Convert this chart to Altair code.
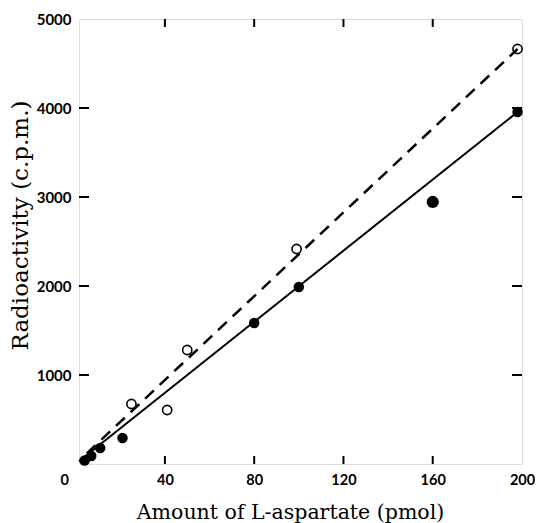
import altair as alt
import pandas as pd

# ---- data ----
filled_x = [4, 7, 11, 21, 80, 100, 160, 198]
filled_y = [40, 90, 180, 292, 1584, 1989, 2944, 3955]
filled_size = [110, 110, 110, 110, 110, 110, 150, 110]
open_x = [25, 41, 50, 99, 198]
open_y = [674, 607, 1281, 2416, 4663]
solid_x = [1.5, 198]
solid_y = [30, 3955]
dashed_x = [5, 198]
dashed_y = [120, 4663]
x_ticks = [40, 80, 120, 160, 200]
y_ticks = [1000, 2000, 3000, 4000, 5000]

W, H = 443, 445
PL, PT, PR, PB = 71, 11, 13, 59
LABEL_FONT = "Lato"
TITLE_FONT = "DejaVu Serif"

xscale = alt.Scale(domain=[1.5, 200], nice=False, zero=False)
yscale = alt.Scale(domain=[0, 5000], nice=False, zero=False)

xaxis = alt.Axis(
    values=x_ticks, format="d", ticks=False, tickSize=0, domain=False, grid=False,
    labelFont=LABEL_FONT, labelFontWeight="bold", labelFontSize=14.5, labelColor="black",
    labelPadding=9, labelFlush=False,
    title="Amount of L-aspartate (pmol)", titleFont=TITLE_FONT, titleFontSize=20.5,
    titleFontWeight="normal", titleColor="black",
    titleX=211, titleY=54, titleBaseline="alphabetic", titleAlign="center",
)
yaxis = alt.Axis(
    values=y_ticks, format="d", ticks=False, tickSize=0, domain=False, grid=False,
    labelFont=LABEL_FONT, labelFontWeight="bold", labelFontSize=15, labelColor="black",
    labelPadding=8, labelFlush=False,
    title="Radioactivity (c.p.m.)", titleFont=TITLE_FONT, titleFontSize=23,
    titleFontWeight="normal", titleColor="black",
    titleX=-52, titleY=206, titleBaseline="alphabetic", titleAlign="center", titleAngle=-90,
)

X = lambda: alt.X("x:Q", scale=xscale, axis=xaxis)
Y = lambda: alt.Y("y:Q", scale=yscale, axis=yaxis)

solid_df = pd.DataFrame({"x": solid_x, "y": solid_y})
dashed_df = pd.DataFrame({"x": dashed_x, "y": dashed_y})
filled_df = pd.DataFrame({"x": filled_x, "y": filled_y, "s": filled_size})
open_df = pd.DataFrame({"x": open_x, "y": open_y})

solid = alt.Chart(solid_df).mark_line(color="black", strokeWidth=2).encode(x=X(), y=Y())
dashed = alt.Chart(dashed_df).mark_line(color="black", strokeWidth=2.5, strokeDash=[12, 8]).encode(x=X(), y=Y())
filled = alt.Chart(filled_df).mark_point(filled=True, shape="circle", color="black", opacity=1).encode(
    x=X(), y=Y(), size=alt.Size("s:Q", scale=None, legend=None)
)
opened = alt.Chart(open_df).mark_point(filled=False, shape="circle", color="black", strokeWidth=1.6, size=85, opacity=1).encode(
    x=X(), y=Y()
)

xt_df = pd.DataFrame({"x": [v for v in x_ticks if v < 200]})
yt_df = pd.DataFrame({"y": [v for v in y_ticks if v < 5000]})

bottom_ticks = alt.Chart(xt_df).mark_rule(color="black", strokeWidth=2).encode(
    x=X(), y=alt.value(H - 8), y2=alt.value(H)
)
top_ticks = alt.Chart(xt_df).mark_rule(color="black", strokeWidth=2).encode(
    x=X(), y=alt.value(0), y2=alt.value(8)
)
left_ticks = alt.Chart(yt_df).mark_rule(color="black", strokeWidth=2).encode(
    y=Y(), x=alt.value(0), x2=alt.value(10)
)
right_ticks = alt.Chart(yt_df).mark_rule(color="black", strokeWidth=2).encode(
    y=Y(), x=alt.value(W - 10), x2=alt.value(W)
)

zero_df = pd.DataFrame({"x": [0], "t": ["0"]})
zero_label = alt.Chart(zero_df).mark_text(
    font=LABEL_FONT, fontWeight="bold", fontSize=14.5, color="black", baseline="top", dx=-11
).encode(x=X(), y=alt.value(H + 10), text="t:N")

chart = alt.layer(
    solid, dashed, filled, opened, bottom_ticks, top_ticks, left_ticks, right_ticks, zero_label
).properties(
    width=W, height=H,
    autosize=alt.AutoSizeParams(type="none"),
    padding={"left": PL, "top": PT, "right": PR, "bottom": PB},
).configure_view(stroke="black", strokeWidth=2).configure(background="white")

chart.save("out.html", embed_options={"renderer": "svg", "actions": False})
